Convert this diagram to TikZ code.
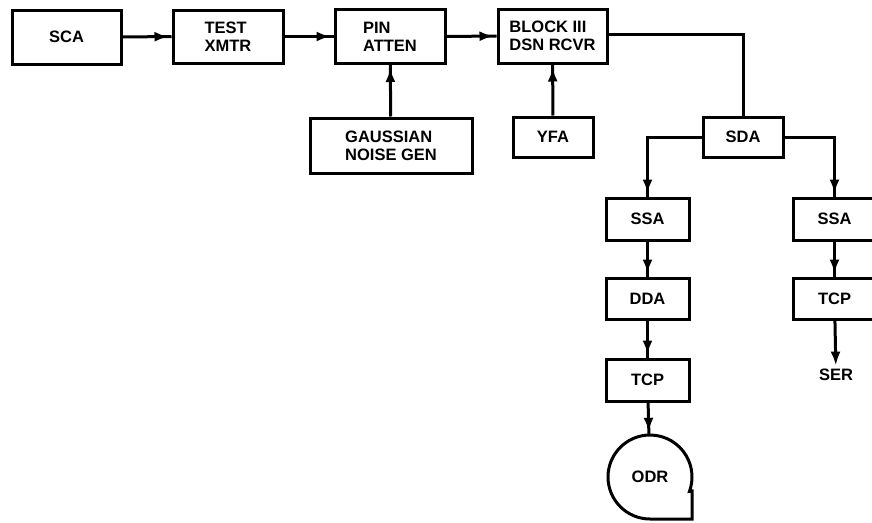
\documentclass[tikz,border=0pt]{standalone}
\usepackage{fontspec}
\setmainfont{Liberation Sans}
\usetikzlibrary{arrows.meta,decorations.markings}
\begin{document}
\begin{tikzpicture}[x=1pt,y=-1pt,
  lbl/.style={font=\bfseries\fontsize{16.5}{18}\selectfont,align=left},
  box/.style={lbl,draw,line width=3pt,inner sep=0pt},
  conn/.style={line width=3pt,postaction={decorate,decoration={markings,mark=at position -3pt with {\arrow{Latex[length=14pt,width=10pt]}}}}},
  tipend/.style={line width=3pt,-{Latex[length=14pt,width=10pt]}}
]
\useasboundingbox (0,0) rectangle (872,522);
\node[box,minimum width=109pt,minimum height=54pt] (sca) at (66.5,37) {SCA};
\node[box,minimum width=110pt,minimum height=53pt] (test) at (228,36.5) {TEST\\XMTR};
\node[box,minimum width=110pt,minimum height=54pt] (pin) at (390,36.5) {PIN\\ATTEN};
\node[box,minimum width=109pt,minimum height=54pt] (blk) at (552.5,36) {BLOCK III\\DSN RCVR};
\node[box,minimum width=162pt,minimum height=55pt] (gauss) at (391,145.5) {GAUSSIAN\\NOISE GEN};
\node[box,minimum width=80pt,minimum height=40pt] (yfa) at (553,137) {YFA};
\node[box,minimum width=80pt,minimum height=40pt] (sda) at (743,137) {SDA};
\node[box,minimum width=83pt,minimum height=42pt] (ssal) at (647.5,219) {SSA};
\node[box,minimum width=83pt,minimum height=41pt] (dda) at (647.5,298.5) {DDA};
\node[box,minimum width=83pt,minimum height=42pt] (tcpl) at (647.5,380) {TCP};
\node[box,minimum width=83pt,minimum height=42pt] (ssar) at (834.5,219) {SSA};
\node[box,minimum width=83pt,minimum height=41pt] (tcpr) at (834.5,298.5) {TCP};
\node[lbl] (ser) at (836,375) {SER};
\node[lbl,circle,minimum size=84pt,inner sep=0pt] (odr) at (650,477) {ODR};
\draw[line width=3pt,line join=miter] (650,519) arc[start angle=-90,end angle=-380,radius=42pt] -- (692,491) -- (692,519) -- cycle;
\draw[conn] (sca) -- (test);
\draw[conn] (test) -- (pin);
\draw[conn] (pin) -- (blk);
\draw[conn] (gauss) -- (pin);
\draw[conn] (yfa) -- (blk);
\draw[line width=3pt] (blk.east |- 0,34) -| (sda.north);
\draw[conn] (sda.west) -| (ssal.north);
\draw[conn] (sda.east) -| (ssar.north);
\draw[conn] (ssal) -- (dda);
\draw[conn] (dda) -- (tcpl);
\draw[conn] (tcpl) -- (odr);
\draw[conn] (ssar) -- (tcpr);
\draw[tipend] (tcpr) -- (ser);
\end{tikzpicture}
\end{document}
